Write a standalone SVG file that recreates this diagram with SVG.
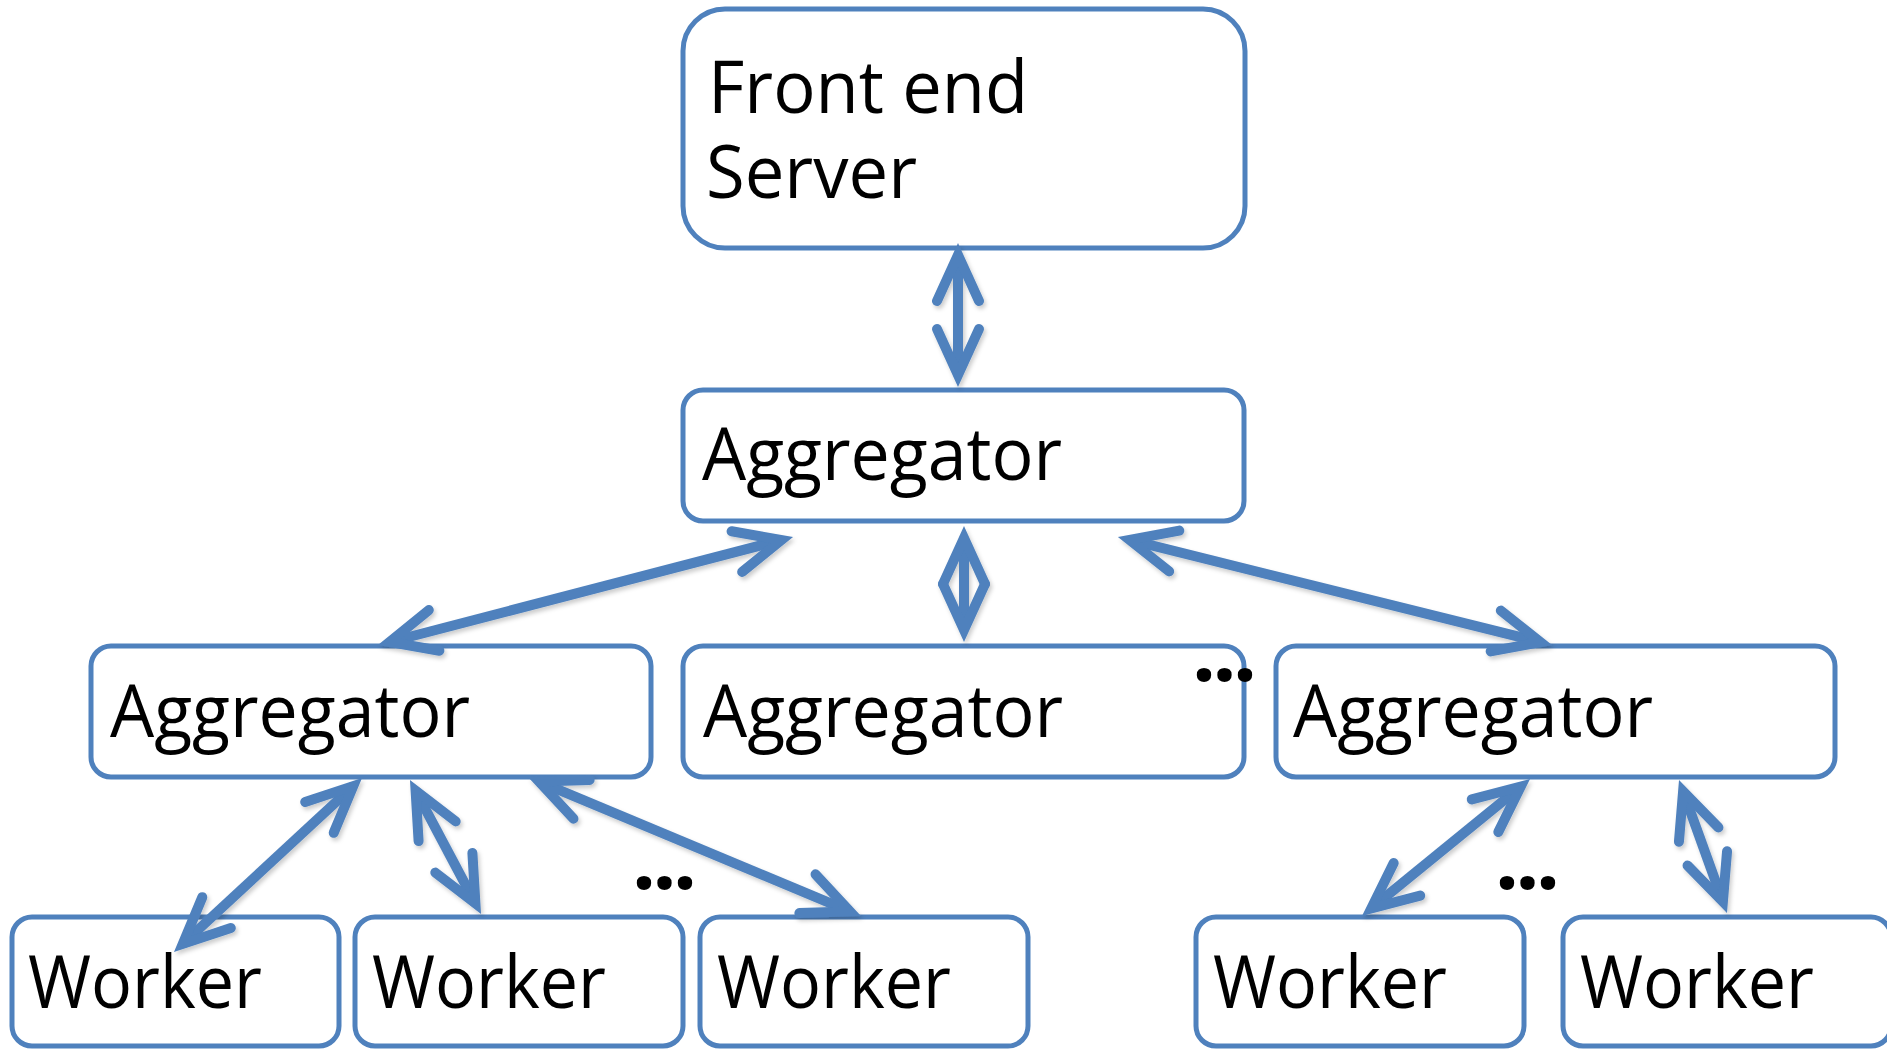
<svg xmlns="http://www.w3.org/2000/svg" width="1887" height="1049" viewBox="0 0 1887 1049">
<style>
.box{fill:#fff;stroke:#4F81BD;stroke-width:5}
.lbl{font-family:"Open Sans","DejaVu Sans",sans-serif;font-size:74px;fill:#000}
.dots{font-family:"Open Sans",sans-serif;font-size:84px;font-weight:bold;fill:#000;letter-spacing:-3.5px}
.con{fill:none;stroke:#4F81BD;stroke-width:10;marker-start:url(#chev);marker-end:url(#chev)}
</style>
<defs>
<marker id="chev" markerUnits="userSpaceOnUse" viewBox="-70 -50 90 100" markerWidth="90" markerHeight="100" refX="0" refY="0" orient="auto-start-reverse" overflow="visible">
<path d="M-46,-21 L0,0 L-46,21" fill="none" stroke="#4F81BD" stroke-width="10" stroke-linecap="round" stroke-linejoin="miter"/>
</marker>
<filter id="sh" x="-10%" y="-10%" width="120%" height="120%">
<feDropShadow dx="2" dy="3" stdDeviation="2" flood-color="#000" flood-opacity="0.2"/>
</filter>
</defs>
<g id="frontend">
<rect class="box" x="683" y="9" width="562" height="239" rx="42"/>
<text class="lbl"><tspan x="708" y="113" textLength="320" lengthAdjust="spacingAndGlyphs">Front end</tspan><tspan x="706" y="198" textLength="211" lengthAdjust="spacingAndGlyphs">Server</tspan></text>
</g>
<g id="agg-top">
<rect class="box" x="683" y="390" width="561" height="131" rx="20"/>
<text class="lbl" x="702" y="480" textLength="360" lengthAdjust="spacingAndGlyphs">Aggregator</text>
</g>
<g id="agg-left">
<rect class="box" x="91" y="646" width="560" height="131" rx="20"/>
<text class="lbl" x="110" y="737" textLength="360" lengthAdjust="spacingAndGlyphs">Aggregator</text>
</g>
<g id="agg-mid">
<rect class="box" x="683" y="646" width="561" height="131" rx="20"/>
<text class="lbl" x="703" y="737" textLength="360" lengthAdjust="spacingAndGlyphs">Aggregator</text>
</g>
<g id="agg-right">
<rect class="box" x="1276" y="646" width="559" height="131" rx="20"/>
<text class="lbl" x="1293" y="737" textLength="360" lengthAdjust="spacingAndGlyphs">Aggregator</text>
</g>
<g id="worker1">
<rect class="box" x="12" y="917" width="327" height="129" rx="20"/>
<text class="lbl" x="28" y="1008" textLength="234" lengthAdjust="spacingAndGlyphs">Worker</text>
</g>
<g id="worker2">
<rect class="box" x="355" y="917" width="328" height="129" rx="20"/>
<text class="lbl" x="372" y="1008" textLength="234" lengthAdjust="spacingAndGlyphs">Worker</text>
</g>
<g id="worker3">
<rect class="box" x="700" y="917" width="328" height="129" rx="20"/>
<text class="lbl" x="717" y="1008" textLength="234" lengthAdjust="spacingAndGlyphs">Worker</text>
</g>
<g id="worker4">
<rect class="box" x="1196" y="917" width="328" height="129" rx="20"/>
<text class="lbl" x="1213" y="1008" textLength="234" lengthAdjust="spacingAndGlyphs">Worker</text>
</g>
<g id="worker5">
<rect class="box" x="1563" y="917" width="328" height="129" rx="20"/>
<text class="lbl" x="1580" y="1008" textLength="234" lengthAdjust="spacingAndGlyphs">Worker</text>
</g>
<g id="ellipses">
<text class="dots" x="1192" y="680.5">...</text>
<text class="dots" x="632" y="888.5">...</text>
<text class="dots" x="1495" y="888.5">...</text>
</g>
<g id="connectors" filter="url(#sh)">
<path class="con" d="M958,255 L958,375"/>
<path class="con" d="M781.4,540 L389.6,642"/>
<path class="con" d="M964,538 L964,630"/>
<path class="con" d="M1129.6,539.9 L1540.4,642.1"/>
<path class="con" d="M353.2,786.1 L182.8,943.9"/>
<path class="con" d="M415.6,790.6 L475.4,903.4"/>
<path class="con" d="M539.1,781.6 L849.9,911.4"/>
<path class="con" d="M1520.7,786.6 L1371.3,908.4"/>
<path class="con" d="M1683.1,791.3 L1722.9,901.7"/>
</g>
</svg>
